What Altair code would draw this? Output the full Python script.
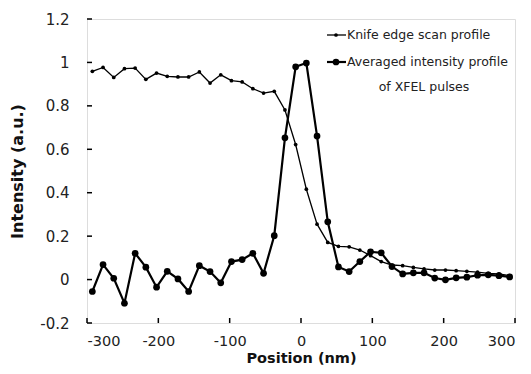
import altair as alt
import pandas as pd

positions = [-292.5, -277.5, -262.5, -247.5, -232.5, -217.5, -202.5, -187.5, -172.5, -157.5,
             -142.5, -127.5, -112.5, -97.5, -82.5, -67.5, -52.5, -37.5, -22.5, -7.5,
             7.5, 22.5, 37.5, 52.5, 67.5, 82.5, 97.5, 112.5, 127.5, 142.5,
             157.5, 172.5, 187.5, 202.5, 217.5, 232.5, 247.5, 262.5, 277.5, 292.5]

knife_edge = [0.959, 0.977, 0.931, 0.971, 0.974, 0.922, 0.951, 0.936, 0.933, 0.933,
              0.956, 0.905, 0.943, 0.916, 0.910, 0.879, 0.859, 0.867, 0.781, 0.622,
              0.416, 0.255, 0.171, 0.153, 0.151, 0.136, 0.110, 0.083, 0.067, 0.064,
              0.056, 0.049, 0.044, 0.044, 0.041, 0.038, 0.034, 0.029, 0.026, 0.018]

averaged = [-0.055, 0.069, 0.006, -0.109, 0.121, 0.057, -0.035, 0.038, 0.003, -0.055,
            0.064, 0.037, -0.015, 0.083, 0.092, 0.121, 0.029, 0.202, 0.653, 0.980,
            0.997, 0.661, 0.266, 0.058, 0.037, 0.083, 0.128, 0.123, 0.060, 0.026,
            0.031, 0.031, 0.007, -0.001, 0.008, 0.011, 0.020, 0.022, 0.018, 0.012]

x_ticks = [-300, -200, -100, 0, 100, 200, 300]
y_ticks = [-0.2, 0, 0.2, 0.4, 0.6, 0.8, 1, 1.2]

series_names = ["Knife edge scan profile", "Averaged intensity profile", "of XFEL pulses"]

FONT = "DejaVu Sans"
W, H = 428, 304

knife_df = pd.DataFrame({"x": positions, "y": knife_edge})
avg_df = pd.DataFrame({"x": positions, "y": averaged})

xscale = alt.Scale(domain=[-300, 300], nice=False, zero=False)
yscale = alt.Scale(domain=[-0.2, 1.2], nice=False, zero=False)

xaxis = alt.Axis(values=x_ticks, title="Position (nm)", ticks=False, tickSize=0, domain=False,
                 grid=False, labelFont=FONT, labelFontSize=14.5, labelColor="#222222",
                 labelPadding=11, titleFont=FONT, titleFontSize=14.5, titleFontWeight="bold",
                 titleColor="#111111", titleBaseline="alphabetic", titleY=39,
                 labelExpr="'' + datum.value")
yaxis = alt.Axis(values=y_ticks, title="Intensity (a.u.)", ticks=False, tickSize=0, domain=False,
                 grid=False, labelFont=FONT, labelFontSize=15, labelColor="#222222",
                 labelPadding=18, titleFont=FONT, titleFontSize=16, titleFontWeight="bold",
                 titleColor="#111111", titlePadding=14, labelExpr="'' + datum.value")

knife = alt.Chart(knife_df).mark_line(
    color="black", strokeWidth=1.3,
    point=alt.OverlayMarkDef(filled=True, color="black", size=14)
).encode(
    x=alt.X("x:Q", scale=xscale, axis=xaxis),
    y=alt.Y("y:Q", scale=yscale, axis=yaxis),
)

avg = alt.Chart(avg_df).mark_line(
    color="black", strokeWidth=2.2,
    point=alt.OverlayMarkDef(filled=True, color="black", size=45)
).encode(
    x=alt.X("x:Q", scale=xscale),
    y=alt.Y("y:Q", scale=yscale),
)

xt = alt.Chart(pd.DataFrame({"x": x_ticks})).mark_rule(color="black", strokeWidth=1.5).encode(
    x=alt.X("x:Q", scale=xscale), y=alt.value(H), y2=alt.value(H - 5))
yt = alt.Chart(pd.DataFrame({"y": y_ticks})).mark_rule(color="black", strokeWidth=1.5).encode(
    y=alt.Y("y:Q", scale=yscale), x=alt.value(0), x2=alt.value(5))

one = pd.DataFrame({"k": [0]})
leg = []
# entry 1
leg.append(alt.Chart(one).mark_rule(color="black", strokeWidth=1.3).encode(
    x=alt.value(240), x2=alt.value(259), y=alt.value(16)))
leg.append(alt.Chart(one).mark_point(filled=True, color="black", size=14, opacity=1).encode(
    x=alt.value(249), y=alt.value(16)))
leg.append(alt.Chart(pd.DataFrame({"t": [series_names[0]]})).mark_text(
    align="left", baseline="middle", font=FONT, fontSize=12.5, color="#222222").encode(
    x=alt.value(260), y=alt.value(16), text="t:N"))
# entry 2
leg.append(alt.Chart(one).mark_rule(color="black", strokeWidth=2.2).encode(
    x=alt.value(240), x2=alt.value(259), y=alt.value(43)))
leg.append(alt.Chart(one).mark_point(filled=True, color="black", size=45, opacity=1).encode(
    x=alt.value(249), y=alt.value(43)))
leg.append(alt.Chart(pd.DataFrame({"t": [series_names[1]]})).mark_text(
    align="left", baseline="middle", font=FONT, fontSize=12.5, color="#222222").encode(
    x=alt.value(260), y=alt.value(43), text="t:N"))
leg.append(alt.Chart(pd.DataFrame({"t": [series_names[2]]})).mark_text(
    align="center", baseline="middle", font=FONT, fontSize=12.5, color="#222222").encode(
    x=alt.value(337), y=alt.value(68), text="t:N"))

chart = alt.layer(knife, avg, xt, yt, *leg).properties(
    width=W, height=H,
    autosize=alt.AutoSizeParams(type="none"),
    padding={"left": 79, "top": 11, "right": 8, "bottom": 43},
).configure_view(stroke="black", strokeWidth=2).configure(background="white")

chart.save("out.html", embed_options={"renderer": "svg", "actions": False})
